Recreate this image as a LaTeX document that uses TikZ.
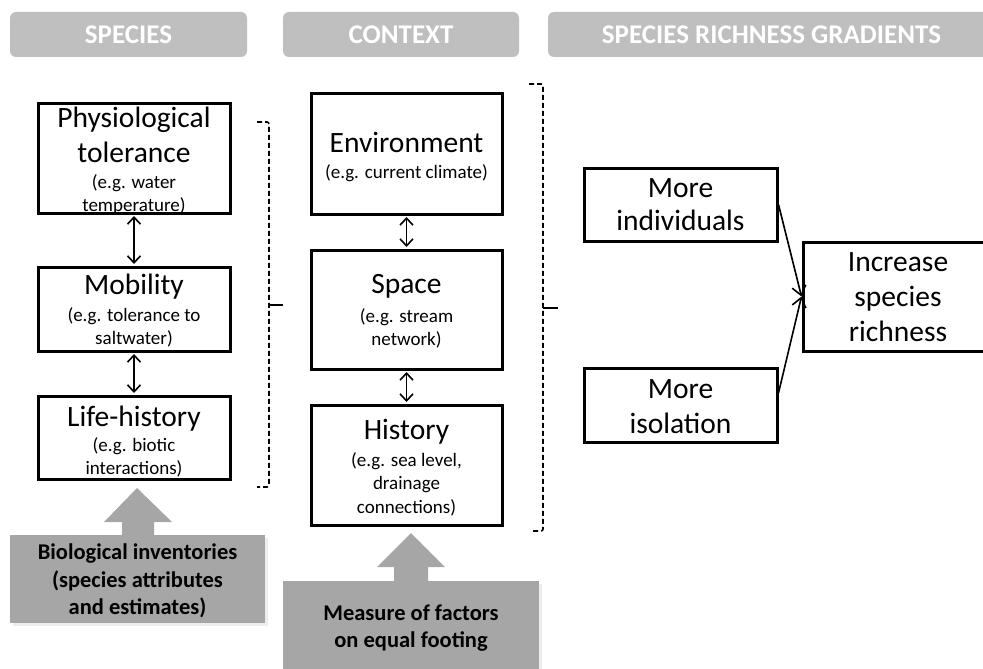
\documentclass[tikz,border=0pt]{standalone}
\usepackage{fontspec}
\setmainfont{Carlito}
\usetikzlibrary{arrows.meta}
\definecolor{hdrgray}{HTML}{BFBFBF}
\definecolor{arrgray}{HTML}{A6A6A6}
\newcommand\bigT{\fontsize{29.5}{35}\selectfont}
\newcommand\smallT{\fontsize{19}{23}\selectfont}
\begin{document}
\begin{tikzpicture}[x=1pt,y=-1pt,
  box/.style={draw, line width=3pt, inner sep=0pt},
  txt/.style={align=center, inner sep=0pt, font=\bigT},
  hdr/.style={fill=hdrgray, rounded corners=6pt, inner sep=0pt, text=white, font=\fontsize{27}{30}\selectfont\bfseries},
  dbl/.style={line width=1.6pt, shorten <=1.5pt, shorten >=1.5pt, {Straight Barb[length=7pt,width=13pt]}-{Straight Barb[length=7pt,width=13pt]}},
  conv/.style={line width=1.6pt, -{Straight Barb[length=9pt,width=14pt]}},
  brk/.style={line width=1.6pt, dash pattern=on 5pt off 3pt, rounded corners=2pt},
  gbox/.style={fill=arrgray, inner sep=0pt},
  gtxt/.style={inner sep=0pt, align=center, font=\fontsize{22.5}{27.5}\selectfont\bfseries},
  shad/.style={fill=black!7},
]
\clip (0,0) rectangle (983,669);
% headers
\node[hdr, minimum width=237pt, minimum height=45pt] (hsp) at (128.5,34.5) {SPECIES};
\node[hdr, minimum width=236pt, minimum height=45pt] (hct) at (401,34.5) {CONTEXT};
\node[hdr, minimum width=447pt, minimum height=45pt] (hsr) at (771.5,34.5) {SPECIES RICHNESS GRADIENTS};
% species boxes
\node[box, minimum width=192pt, minimum height=110pt] (phys) at (134,158) {};
\node[box, minimum width=192pt, minimum height=84pt] (mob) at (134,309) {};
\node[box, minimum width=192pt, minimum height=83pt] (life) at (134,437.5) {};
\node[txt] (physT) at (134,161) {Physiological\\tolerance\\[-9pt]\smallT (e.g. water\\[-12pt]\smallT temperature)};
\node[txt] (mobT) at (134,311) {Mobility\\[-8pt]\smallT (e.g. tolerance to\\[-12pt]\smallT saltwater)};
\node[txt] (lifeT) at (134,442) {Life-history\\[-10pt]\smallT (e.g. biotic\\[-12pt]\smallT interactions)};
\draw[dbl] (phys.south) -- (mob.north);
\draw[dbl] (mob.south) -- (life.north);
% context boxes
\node[box, minimum width=191pt, minimum height=120pt] (env) at (406.5,154) {};
\node[box, minimum width=191pt, minimum height=119pt] (spc) at (406.5,309.5) {};
\node[box, minimum width=191pt, minimum height=120pt] (hist) at (406.5,465) {};
\node[txt] (envT) at (406.5,157) {Environment\\[-9pt]\smallT (e.g. current climate)};
\node[txt] (spcT) at (406.5,311) {Space\\[-6pt]\smallT (e.g. stream\\[-12pt]\smallT network)};
\node[txt] (histT) at (406.5,468) {History\\[-8pt]\smallT (e.g. sea level,\\[-12pt]\smallT drainage\\[-11pt]\smallT connections)};
\draw[dbl] (env.south) -- (spc.north);
\draw[dbl] (spc.south) -- (hist.north);
% brackets
\draw[brk] (257,122) -- (269,122) -- (269,487) -- (257,487);
\draw[line width=1.6pt] (269,305) -- (283,305);
\draw[brk] (529,84) -- (543,84) -- (543,531) -- (532,531);
\draw[line width=1.6pt] (543,308) -- (558,308);
% gradient boxes
\node[box, minimum width=193pt, minimum height=73pt] (indiv) at (680.5,204.5) {};
\node[box, minimum width=190pt, minimum height=109pt] (incr) at (898,296.5) {};
\node[box, minimum width=193pt, minimum height=74pt] (iso) at (680.5,405) {};
\node[txt] (indivT) at (680.5,204.5) {More\\[-2pt]individuals};
\node[txt] (incrT) at (898,297.5) {Increase\\species\\richness};
\node[txt] (isoT) at (680.5,406.5) {More\\isolation};
\draw[conv] (indiv.east) -- (incr.west);
\draw[conv] ([yshift=12pt]iso.east) -- (incr.west);
% grey block arrows
\fill[shad] (12.5,537.5) rectangle +(255,88);
\node[gbox, minimum width=255pt, minimum height=88pt] (bio) at (137.5,579) {};
\fill[arrgray] (122,536) -- (122,522) -- (104,522) -- (137,488) -- (172,522) -- (154,522) -- (154,536) -- cycle;
\node[gtxt] (bioT) at (137.5,581) {Biological inventories\\(species attributes\\and estimates)};
\fill[shad] (285.5,583.5) rectangle +(256,100);
\node[gbox, minimum width=256pt, minimum height=100pt] (meas) at (411,631) {};
\fill[arrgray] (394,582) -- (394,567) -- (377,567) -- (411,533) -- (445,567) -- (428,567) -- (428,582) -- cycle;
\node[gtxt] (measT) at (411,628) {Measure of factors\\on equal footing};
\end{tikzpicture}
\end{document}
